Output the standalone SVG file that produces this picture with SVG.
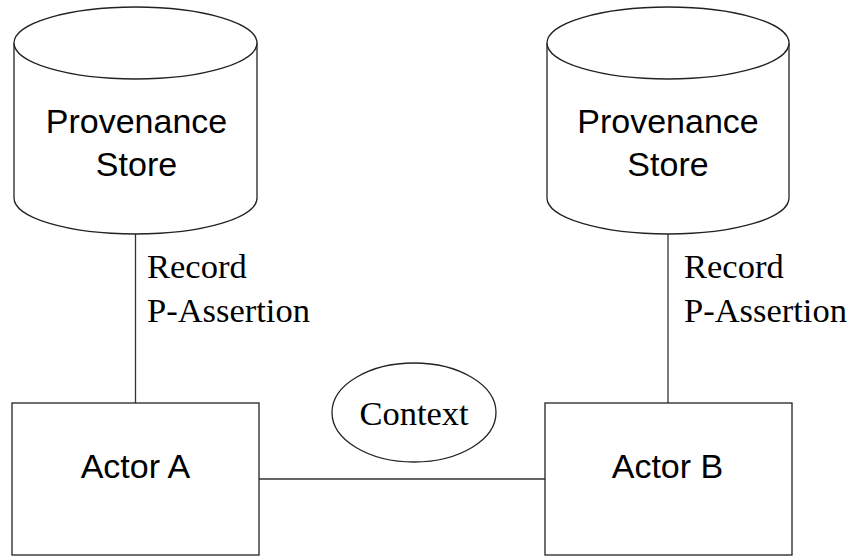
<svg xmlns="http://www.w3.org/2000/svg" width="849" height="556" viewBox="0 0 849 556">
  <style>
    .shape { fill: #ffffff; stroke: #222222; stroke-width: 1.3; }
    .link { fill: none; stroke: #333333; stroke-width: 1.3; }
    .sans { font-family: "Liberation Sans", Arial, sans-serif; font-size: 34px; fill: #000000; text-anchor: middle; }
    .serif { font-family: "Liberation Serif", "Times New Roman", serif; font-size: 34.5px; fill: #000000; }
  </style>
  <rect width="849" height="556" fill="#ffffff"/>

  <g id="connectors">
    <line class="link" x1="135.5" y1="234" x2="135.5" y2="403"/>
    <line class="link" x1="668" y1="234" x2="668" y2="403"/>
    <line class="link" x1="259" y1="479" x2="545" y2="479"/>
  </g>

  <g id="store-a">
    <path class="shape" d="M14,43 L14,198 A121.5,36 0 0 0 257,198 L257,43"/>
    <ellipse class="shape" cx="135.5" cy="43" rx="121.5" ry="36"/>
    <text class="sans" x="136.5" y="133">Provenance</text>
    <text class="sans" x="136.5" y="176">Store</text>
  </g>

  <g id="store-b">
    <path class="shape" d="M547,43 L547,198 A121,36 0 0 0 789,198 L789,43"/>
    <ellipse class="shape" cx="668" cy="43" rx="121" ry="36"/>
    <text class="sans" x="668" y="133">Provenance</text>
    <text class="sans" x="668" y="176">Store</text>
  </g>

  <g id="label-a">
    <text class="serif" x="147" y="278">Record</text>
    <text class="serif" x="147" y="322">P-Assertion</text>
  </g>

  <g id="label-b">
    <text class="serif" x="684" y="278">Record</text>
    <text class="serif" x="684" y="322">P-Assertion</text>
  </g>

  <g id="actor-a">
    <rect class="shape" x="12" y="403" width="247" height="152"/>
    <text class="sans" x="135.5" y="478">Actor A</text>
  </g>

  <g id="actor-b">
    <rect class="shape" x="545" y="403" width="247" height="152"/>
    <text class="sans" x="667.5" y="478">Actor B</text>
  </g>

  <g id="context">
    <ellipse class="shape" cx="414" cy="412.5" rx="82" ry="49.5"/>
    <text class="serif" x="414" y="425" text-anchor="middle">Context</text>
  </g>
</svg>
